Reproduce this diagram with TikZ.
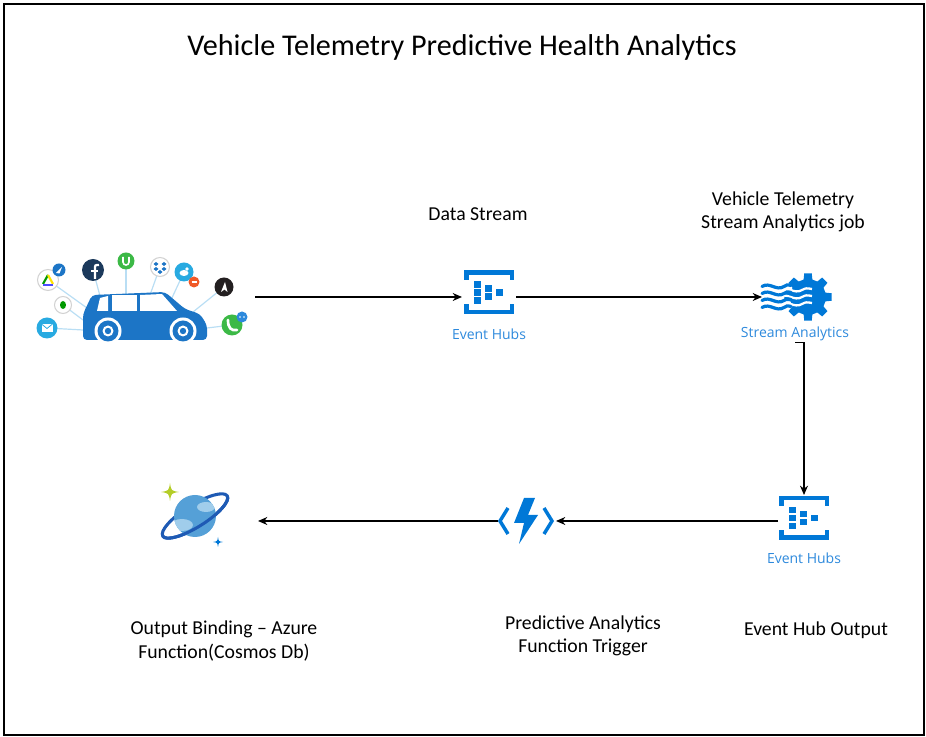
\documentclass[tikz,border=0pt]{standalone}
\usepackage{fontspec}
\setmainfont{Carlito}
\newfontfamily\svcfont{Open Sans}
\usetikzlibrary{arrows.meta,positioning}

\definecolor{azure}{RGB}{0,120,215}
\definecolor{svcblue}{RGB}{45,137,220}
\definecolor{carblue}{RGB}{28,117,198}
\definecolor{spoke}{RGB}{185,222,244}
\definecolor{badgegrey}{RGB}{210,210,210}
\definecolor{fbnavy}{RGB}{28,58,92}
\definecolor{appgreen}{RGB}{60,185,70}
\definecolor{twblue}{RGB}{40,170,225}
\definecolor{alertred}{RGB}{240,90,40}
\definecolor{appblack}{RGB}{35,31,32}
\definecolor{ringblue}{RGB}{30,90,180}
\definecolor{planetblue}{RGB}{85,160,215}
\definecolor{cloudblue}{RGB}{160,205,235}
\definecolor{sparkgreen}{RGB}{180,205,40}

\tikzset{
  iconbox/.style={inner sep=0pt,outer sep=0pt},
  caption/.style={font=\fontsize{14.8}{17.5}\selectfont,align=center,inner sep=1pt},
  svclabel/.style={font=\svcfont\fontsize{10.5}{12}\selectfont,text=svcblue,inner sep=1pt},
  flow/.style={-{Stealth[length=7pt,width=6pt]},line width=1pt},
  % event hub: two brackets round a block of squares
  hubicon/.pic={
    \fill[azure] (-25,-22) rectangle (25,-17.5);
    \fill[azure] (-25,-22) rectangle (-20.5,-12);
    \fill[azure] (20.5,-22) rectangle (25,-12);
    \fill[azure] (-25,17.5) rectangle (25,22);
    \fill[azure] (-25,12) rectangle (-20.5,22);
    \fill[azure] (20.5,12) rectangle (25,22);
    \foreach \x/\y in {-15/-11,-15/-3,-15/5,-4/-7,-4/1,7/-3}
      \fill[azure] (\x,\y) rectangle ++(6.5,6.5);
  },
  % stream analytics: waves running into a gear
  sagear/.pic={
    \fill[azure] (-14:18) \foreach \a in {0,45,...,315}{
      -- (\a-9:24) -- (\a+9:24) -- (\a+14:18) -- (\a+31:18)} -- cycle;
    \foreach \y in {-7,0,7}
      \draw[white,line width=1.7pt] (-30,\y) .. controls (-20,\y-5) and (-14,\y+5) .. (-6,\y)
        .. controls (-2,\y-2) .. (4,\y-1);
    \foreach \y in {-10.5,-3.5,3.5,10.5}
      \draw[azure,line width=2.4pt,line cap=round] (-46,\y) .. controls (-38,\y-5) and (-32,\y+5) .. (-24,\y)
        .. controls (-21,\y-2) .. (-17,\y-1);
  },
  % function: bolt between two chevrons
  funcicon/.pic={
    \draw[azure,line width=2.6pt] (-18,-13) -- (-26,0) -- (-18,13);
    \draw[azure,line width=2.6pt] (18,-13) -- (26,0) -- (18,13);
    \fill[azure] (-2,-23) -- (9,-23) -- (2,-6) -- (12,-6) -- (-7,23) -- (-2,2) -- (-12,2) -- cycle;
  },
  % cosmos db: ringed planet and two sparkles
  cosmosicon/.pic={
    \draw[ringblue,line width=2.3pt,rotate=32] (0,0) ellipse[x radius=38,y radius=11];
    \fill[planetblue] (0,0) circle[radius=21];
    \begin{scope}
      \clip (0,0) circle[radius=21];
      \fill[cloudblue] (-13,9) ellipse[x radius=11,y radius=6];
      \fill[cloudblue] (11,-9) ellipse[x radius=9,y radius=5];
    \end{scope}
    \draw[ringblue,line width=2.3pt,rotate=32] (38,0) arc[start angle=0,end angle=180,x radius=38,y radius=11];
    \fill[sparkgreen,shift={(-25,-24)}] (0,-9) .. controls (1.2,-1.2) .. (9,0) .. controls (1.2,1.2) .. (0,9)
      .. controls (-1.2,1.2) .. (-9,0) .. controls (-1.2,-1.2) .. cycle;
    \fill[azure,shift={(23,26)}] (0,-5) .. controls (0.7,-0.7) .. (5,0) .. controls (0.7,0.7) .. (0,5)
      .. controls (-0.7,0.7) .. (-5,0) .. controls (-0.7,-0.7) .. cycle;
  },
  % connected car with app badges around it
  carapps/.pic={
    \foreach \ax/\ay/\bx/\by in {-87/-20/-48/8,-42/-30/-35/-4,-9/-39/-9/-5,25/-33/15/-5,
        49/-28/36/0,89/-13/58/12,-72/5/-52/20,-88/28/-52/30,97/25/72/28}
      \draw[spoke,line width=0.9pt] (\ax,\ay) -- (\bx,\by);
    % badges
    \draw[badgegrey,fill=white,line width=0.8pt] (-87,-20) circle[radius=10.5];
    \draw[green!60!black,line width=1.6pt] (-92,-16) -- (-87,-25);
    \draw[yellow!85!orange,line width=1.6pt] (-87,-25) -- (-82,-16);
    \draw[blue!70,line width=1.6pt] (-82,-15) -- (-92,-15);
    \fill[carblue] (-76,-30) circle[radius=6.5];
    \fill[white] (-79,-27) -- (-73,-33) -- (-75.5,-26.5) -- cycle;
    \fill[fbnavy] (-42,-30) circle[radius=11];
    \draw[white,line width=1.7pt] (-40,-21) -- (-40,-31) .. controls (-40,-35) .. (-36,-35);
    \draw[white,line width=1.4pt] (-44,-29) -- (-37,-29);
    \fill[appgreen] (-9,-39) circle[radius=8.5];
    \draw[white,line width=1.2pt] (-12,-43) -- (-12,-38) .. controls (-12,-34) and (-6,-34) .. (-6,-38) -- (-6,-43);
    \draw[badgegrey,fill=white,line width=0.8pt] (25,-33) circle[radius=9.5];
    \foreach \x/\y in {21/-36,29/-36,21/-31,29/-31,25/-28}
      \fill[carblue] (\x,\y-2) -- (\x+2.5,\y) -- (\x,\y+2) -- (\x-2.5,\y) -- cycle;
    \fill[twblue] (49,-28) circle[radius=9.5];
    \fill[white] (49,-27) ellipse[x radius=4.5,y radius=3];
    \fill[white] (52,-31) circle[radius=1.8];
    \fill[alertred] (59,-18) circle[radius=5.5];
    \draw[white,line width=1pt] (56.5,-18) -- (61.5,-18);
    \fill[appblack] (89,-13) circle[radius=9.5];
    \fill[white] (86,-8) -- (90,-18) -- (92.5,-8) -- (89.5,-10.5) -- cycle;
    \draw[badgegrey,fill=white,line width=0.8pt] (-72,5) circle[radius=8.5];
    \fill[green!60!black] (-72,5) ellipse[x radius=3,y radius=4];
    \fill[twblue] (-88,28) circle[radius=10.5];
    \fill[white] (-93.5,24) rectangle (-82.5,32);
    \draw[twblue,line width=0.6pt] (-93.5,24) -- (-88,28.5) -- (-82.5,24);
    \fill[appgreen] (97,25) circle[radius=10.5];
    \draw[white,line width=2pt,line cap=round] (93,20) .. controls (93,28) and (96,31) .. (102,30);
    \fill[svcblue] (107,17) circle[radius=5.5];
    \fill[white] (105,17) circle[radius=0.9] (109,17) circle[radius=0.9];
    % car body, windows and wheels
    \fill[carblue,rounded corners=3pt] (-52,40) -- (-52,14) -- (-43,-5) -- (30,-8) -- (50,9)
      -- (65,14) -- (72,25) -- (72,40) -- cycle;
    \fill[white] (-38,11) -- (-35,-2) -- (-27,-4) -- (-27,11) -- cycle;
    \fill[white] (-23,-5) rectangle (2,11);
    \fill[white] (5,-5) -- (27,-6) -- (42,11) -- (5,11) -- cycle;
    \foreach \x in {-27,48}{
      \fill[white] (\x,31) circle[radius=13.5];
      \fill[carblue] (\x,31) circle[radius=10.5];
      \fill[white] (\x,31) circle[radius=5.5];
      \fill[carblue] (\x,31) circle[radius=3.2];
    }
  }
}

\begin{document}
\begin{tikzpicture}[x=0.75pt,y=-0.75pt]
\useasboundingbox (0,0) rectangle (926,737);
\draw[line width=2pt] (4,4) rectangle (924,735);

\node[font=\fontsize{22.6}{26}\selectfont] (title) at (462,47) {Vehicle Telemetry Predictive Health Analytics};

% icon slots, the arrows run between these
\node[iconbox,minimum width=180pt,minimum height=60pt] (car) at (135,297) {};
\node[iconbox,minimum width=40.5pt,minimum height=37.5pt] (hubin) at (489,297) {};
\node[iconbox,minimum width=51pt,minimum height=37.5pt] (sa) at (796,297) {};
\node[iconbox,minimum width=39pt,minimum height=39pt] (hubout) at (804,521) {};
\node[iconbox,minimum width=43.5pt,minimum height=37.5pt] (func) at (527,521) {};
\node[iconbox,minimum width=94.5pt,minimum height=52pt] (cosmos) at (195,521) {};

\path (car) ++(0,3) pic {carapps};
\path (hubin) ++(0,-4.5) pic {hubicon};
\path (sa) ++(12,0) pic {sagear};
\path (hubout) ++(0,-3) pic {hubicon};
\path (func) ++(-1,0) pic {funcicon};
\path (cosmos) ++(0,-5) pic {cosmosicon};

\node[svclabel] (hubinlbl) at (489,334) {Event Hubs};
\node[svclabel] (salbl) at (795,334) {Stream Analytics};
\node[svclabel] (huboutlbl) at (804,558) {Event Hubs};

\node[caption] (stream) at (478,214) {Data Stream};
\node[caption] (sajob) at (783,212) {Vehicle Telemetry\\Stream Analytics job};
\node[caption] (hubouttxt) at (816,630) {Event Hub Output};
\node[caption] (trigger) at (583,636) {Predictive Analytics\\Function Trigger};
\node[caption] (binding) at (224,641) {Output Binding – Azure\\Function(Cosmos Db)};

\draw[flow] (car) -- (hubin);
\draw[flow] (hubin) -- (sa);
\draw[flow] (salbl.south) -| (hubout.north);
\draw[flow] (hubout) -- (func);
\draw[flow] (func) -- (cosmos);
\end{tikzpicture}
\end{document}
